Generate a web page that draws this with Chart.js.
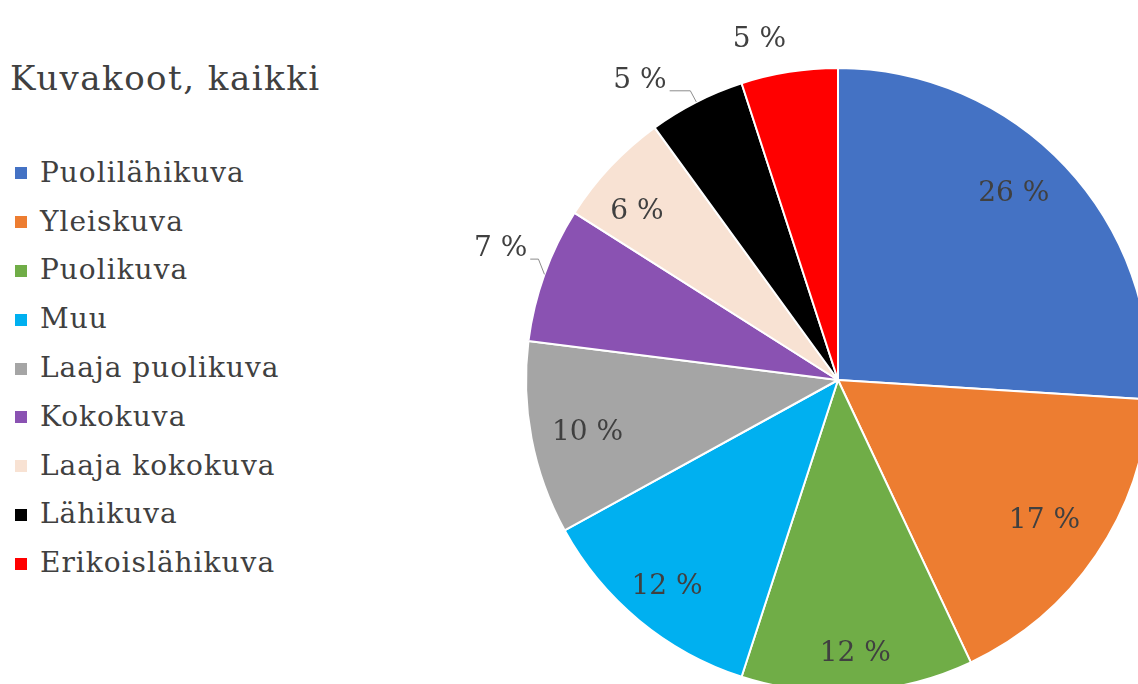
<!DOCTYPE html>
<html>
<head>
<meta charset="utf-8">
<script src="https://cdn.jsdelivr.net/npm/chart.js@4/dist/chart.umd.min.js"></script>
<style>
  html, body { margin: 0; padding: 0; background: #fff; overflow: hidden; width: 1138px; height: 684px; }
  #title { position: absolute; left: 10px; top: 58px; font-family: "DejaVu Serif", serif; font-size: 34px; letter-spacing: 1.5px; color: #404040; white-space: nowrap; }
  #legend { position: absolute; left: 15px; top: 148px; font-family: "DejaVu Serif", serif; font-size: 28px; letter-spacing: 1px; color: #404040; }
  #legend .item { height: 48.8px; display: flex; align-items: center; white-space: nowrap; }
  #legend .box { width: 12px; height: 12px; margin-right: 13px; margin-top: 2px; }
  #pieBox { position: absolute; left: 438px; top: 0px; width: 800px; height: 760px; }
</style>
</head>
<body>
<div id="title">Kuvakoot, kaikki</div>
<div id="legend"></div>
<div id="pieBox"><canvas id="pieChart"></canvas></div>
<script>
// Datos del gráfico
const categories = ['Puolilähikuva', 'Yleiskuva', 'Puolikuva', 'Muu', 'Laaja puolikuva', 'Kokokuva', 'Laaja kokokuva', 'Lähikuva', 'Erikoislähikuva'];
const shares = [26, 17, 12, 12, 10, 7, 6, 5, 5];
const colors = ['#4472C4', '#ED7D31', '#70AD47', '#00B0F0', '#A5A5A5', '#8A52B2', '#F8E2D3', '#000000', '#FF0000'];

// Posición de las etiquetas: fracción del radio, giro en grados y línea guía
const labelRadius = [0.82, 0.80, 0.88, 0.86, 0.82, 1.16, 0.84, 1.15, 1.12];
const labelTurn = [-3.4, 0, 0, 0, -1, 1.4, -3.3, -6.5, -4];
const leaderLine = [false, false, false, false, false, true, false, true, false];

// Leyenda en HTML
const legendEl = document.getElementById('legend');
categories.forEach((name, i) => {
  const item = document.createElement('div');
  item.className = 'item';
  const box = document.createElement('span');
  box.className = 'box';
  box.style.background = colors[i];
  item.appendChild(box);
  item.appendChild(document.createTextNode(name));
  legendEl.appendChild(item);
});

// Plugin para dibujar los porcentajes
const percentLabels = {
  id: 'percentLabels',
  afterDatasetsDraw(chart) {
    const ctx = chart.ctx;
    const meta = chart.getDatasetMeta(0);
    ctx.save();
    ctx.font = '28px "DejaVu Serif", serif';
    ctx.fillStyle = '#404040';
    ctx.textAlign = 'center';
    ctx.textBaseline = 'middle';
    meta.data.forEach((arc, i) => {
      const p = arc.getProps(['x', 'y', 'startAngle', 'endAngle', 'outerRadius'], true);
      const mid = (p.startAngle + p.endAngle) / 2;
      const ang = mid + labelTurn[i] * Math.PI / 180;
      const r = p.outerRadius * labelRadius[i];
      const lx = p.x + Math.cos(ang) * r;
      const ly = p.y + Math.sin(ang) * r;
      const text = chart.data.datasets[0].data[i] + ' %';
      ctx.fillText(text, lx, ly);
      if (leaderLine[i]) {
        const half = ctx.measureText(text).width / 2;
        const ex = p.x + Math.cos(mid) * p.outerRadius;
        const ey = p.y + Math.sin(mid) * p.outerRadius;
        ctx.strokeStyle = '#8c8c8c';
        ctx.lineWidth = 1;
        ctx.beginPath();
        ctx.moveTo(lx + half + 3, ly + 10);
        ctx.lineTo(ex - 6, ly + 10);
        ctx.lineTo(ex, ey);
        ctx.stroke();
      }
    });
    ctx.restore();
  }
};

new Chart(document.getElementById('pieChart'), {
  type: 'pie',
  data: {
    labels: categories,
    datasets: [{
      data: shares,
      backgroundColor: colors,
      borderColor: '#ffffff',
      borderWidth: 2
    }]
  },
  options: {
    responsive: true,
    maintainAspectRatio: false,
    devicePixelRatio: 1,
    animation: false,
    layout: { padding: { left: 87, right: 87, top: 67, bottom: 67 } },
    plugins: {
      legend: { display: false },
      tooltip: { enabled: false }
    }
  },
  plugins: [percentLabels]
});
</script>
</body>
</html>
